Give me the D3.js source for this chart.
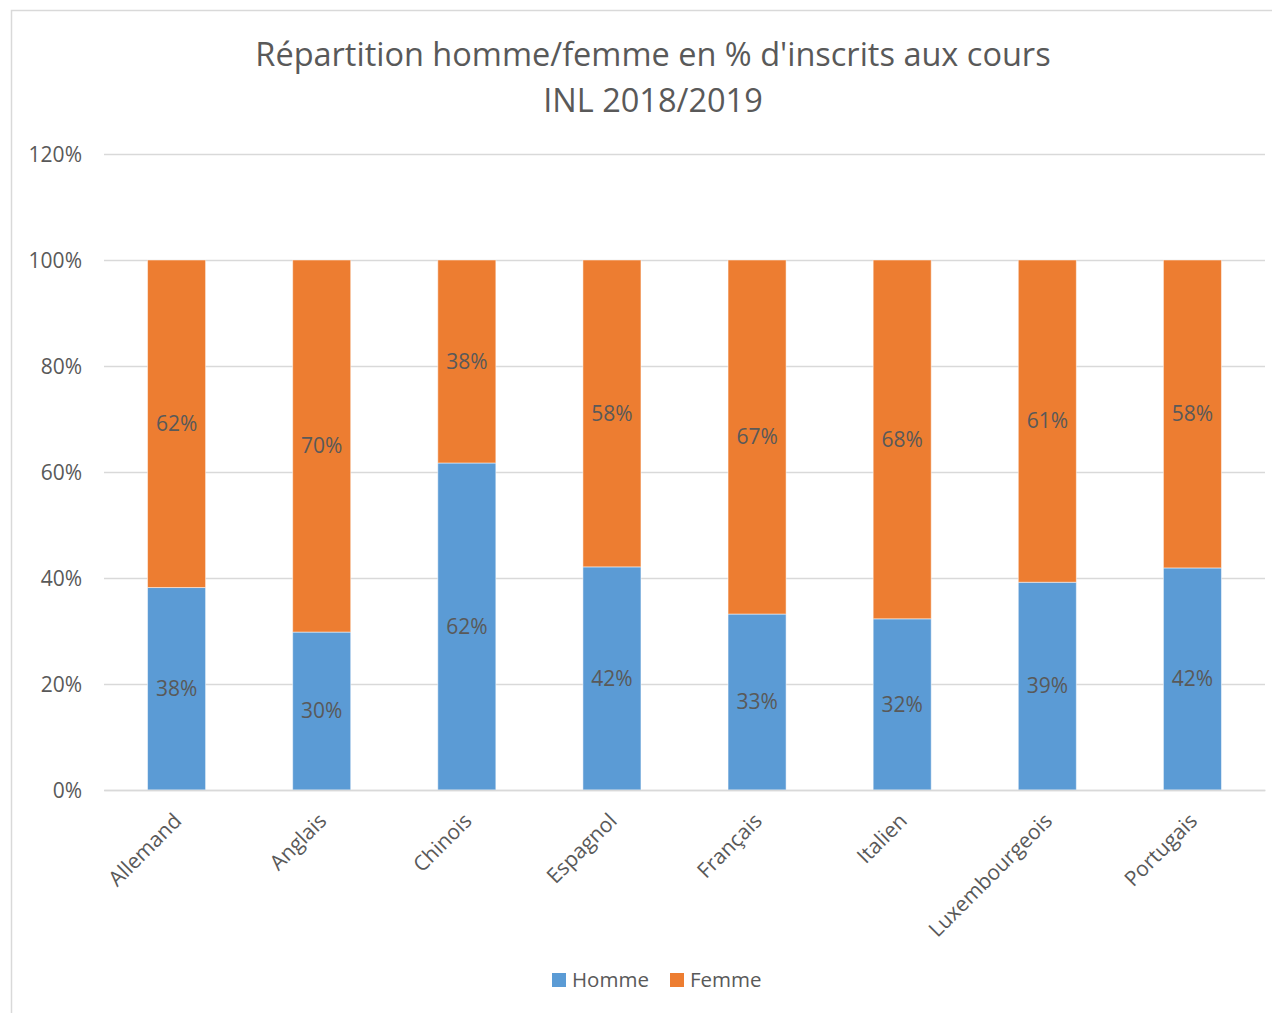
<!DOCTYPE html>
<html>
<head>
<meta charset="utf-8">
<script src="https://cdnjs.cloudflare.com/ajax/libs/d3/7.8.5/d3.min.js"></script>
<style>
  body { margin: 0; background: #fff; }
  text { font-family: "Open Sans", "Noto Sans", sans-serif; fill: #595959; }
</style>
</head>
<body>
<div id="chart-area"></div>
<script>
// Data
var langues = ["Allemand", "Anglais", "Chinois", "Espagnol", "Français", "Italien", "Luxembourgeois", "Portugais"];
var homme = [38.2, 29.8, 61.7, 42.1, 33.2, 32.3, 39.2, 41.9];
var femme = homme.map(function(h) { return 100 - h; });
var seriesNames = ["Homme", "Femme"];
var yTicks = [0, 20, 40, 60, 80, 100, 120];

var color = ["#5b9bd5", "#ed7d31"];

var W = 1272, H = 1013;
var margin = { left: 104, right: 7, top: 154, bottom: 223 };
var width = W - margin.left - margin.right,
    height = H - margin.top - margin.bottom;

var svg = d3.select("#chart-area")
    .append("svg")
        .attr("width", W)
        .attr("height", H);

// chart frame
svg.append("rect")
    .attr("x", 11.5).attr("y", 10.5)
    .attr("width", W + 10).attr("height", H + 10)
    .attr("fill", "none")
    .attr("stroke", "#d9d9d9")
    .attr("stroke-width", 1.5);

// Title
var title = svg.append("text")
    .attr("x", 653)
    .attr("text-anchor", "middle")
    .attr("font-size", "32.5px");
title.append("tspan").attr("x", 653).attr("y", 66).text("Répartition homme/femme en % d'inscrits aux cours");
title.append("tspan").attr("x", 653).attr("y", 112).text("INL 2018/2019");

var g = svg.append("g")
    .attr("transform", "translate(" + margin.left + ", " + margin.top + ")");

var x = d3.scaleBand()
    .domain(langues)
    .range([0, width])
    .paddingInner(0.6)
    .paddingOuter(0.3);

var y = d3.scaleLinear()
    .domain([0, 120])
    .range([height, 0]);

// grid
var yAxisCall = d3.axisLeft(y)
    .tickValues(yTicks)
    .tickSize(-width)
    .tickPadding(22)
    .tickFormat(function(d) { return d + "%"; });
var yAxis = g.append("g").call(yAxisCall);
yAxis.select(".domain").remove();
yAxis.selectAll(".tick line").attr("stroke", "#d9d9d9").attr("stroke-width", 1.5);
yAxis.selectAll(".tick text").attr("font-size", "21px").attr("fill", "#595959").attr("font-family", null).attr("dy", "0.35em");

// stacked bars
var rows = langues.map(function(l, i) { return { langue: l, Homme: homme[i], Femme: femme[i] }; });
var stack = d3.stack().keys(seriesNames)(rows);

var layers = g.selectAll(".layer")
    .data(stack)
    .enter().append("g")
        .attr("fill", function(d, i) { return color[i]; });

layers.selectAll("rect")
    .data(function(d) { return d; })
    .enter().append("rect")
        .attr("x", function(d) { return x(d.data.langue); })
        .attr("y", function(d) { return y(d[1]); })
        .attr("width", x.bandwidth())
        .attr("height", function(d) { return y(d[0]) - y(d[1]); })
        .attr("stroke", "#ffffff")
        .attr("stroke-opacity", 0.5)
        .attr("stroke-width", 1);

// data labels
layers.selectAll("text")
    .data(function(d) { return d; })
    .enter().append("text")
        .attr("x", function(d) { return x(d.data.langue) + x.bandwidth() / 2; })
        .attr("y", function(d) { return (y(d[0]) + y(d[1])) / 2; })
        .attr("dy", "0.35em")
        .attr("text-anchor", "middle")
        .attr("font-size", "21px")
        .attr("fill", "#404040")
        .text(function(d) { return Math.round(d[1] - d[0]) + "%"; });

// x axis
var xAxisCall = d3.axisBottom(x).tickSize(0).tickPadding(0);
var xAxis = g.append("g")
    .attr("transform", "translate(0," + height + ")")
    .call(xAxisCall);
xAxis.select(".domain").attr("stroke", "#d9d9d9").attr("stroke-width", 1.5);
xAxis.selectAll(".tick text")
    .attr("font-size", "21px")
    .attr("font-family", null)
    .attr("fill", "#595959")
    .attr("text-anchor", "end")
    .attr("dy", "0.35em")
    .attr("transform", "translate(1,27) rotate(-45)");

// legend
var legend = svg.append("g").attr("transform", "translate(552, 973)");
var legX = [0, 118];
seriesNames.forEach(function(name, i) {
    legend.append("rect")
        .attr("x", legX[i]).attr("y", 0)
        .attr("width", 14).attr("height", 14)
        .attr("fill", color[i]);
    legend.append("text")
        .attr("x", legX[i] + 20).attr("y", 14)
        .attr("font-size", "20.5px")
        .text(name);
});
</script>
</body>
</html>
